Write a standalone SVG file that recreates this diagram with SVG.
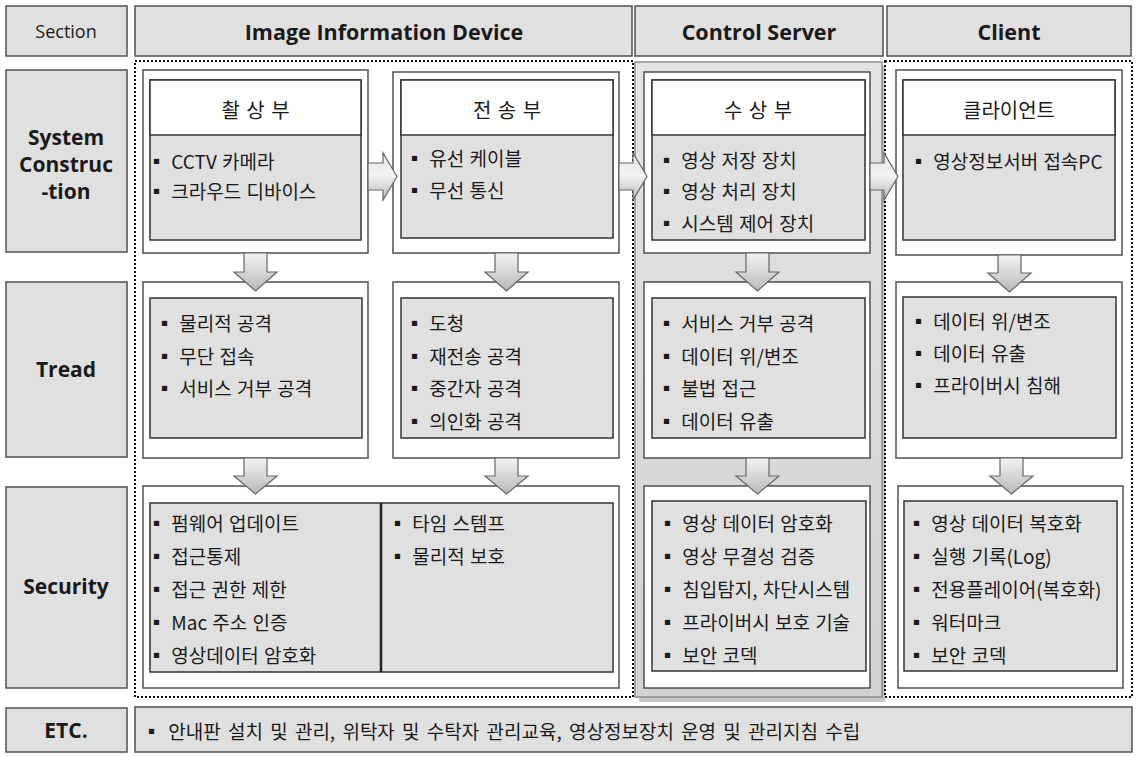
<svg xmlns="http://www.w3.org/2000/svg" width="1138" height="757" viewBox="0 0 1138 757">
<style>
.lbl{fill:#e0e0e0;stroke:#505050;stroke-width:1.5}
.outer{fill:#ffffff;stroke:#505050;stroke-width:1.5}
.inner{fill:#e0e0e0;stroke:#333333;stroke-width:1.5}
.title{fill:#ffffff;stroke:#333333;stroke-width:1.5}
.dot{fill:none;stroke:#111;stroke-width:2;stroke-dasharray:2 2}
.arrow{fill:url(#ag);stroke:#666;stroke-width:1.2}
.harrow{fill:url(#hg);stroke:#666;stroke-width:1.2}
text{font-family:"Open Sans","Noto Sans CJK KR",sans-serif;fill:#1a1a1a;dominant-baseline:central}
.hd{font-size:21.5px;font-weight:bold;text-anchor:middle}
.rl{font-size:21px;font-weight:bold;text-anchor:middle}
.it{font-size:19px;word-spacing:1px;font-family:"Noto Sans CJK KR","Open Sans",sans-serif}
.tt{font-size:20px;word-spacing:2px;text-anchor:middle;font-family:"Noto Sans CJK KR",sans-serif}
</style>
<defs>
<linearGradient id="ag" x1="0" y1="0" x2="0" y2="1"><stop offset="0" stop-color="#f4f4f4"/><stop offset="1" stop-color="#b8b8b8"/></linearGradient>
<linearGradient id="hg" x1="0" y1="0" x2="0" y2="1"><stop offset="0" stop-color="#e8e8e8"/><stop offset="0.5" stop-color="#f2f2f2"/><stop offset="1" stop-color="#b8b8b8"/></linearGradient>
<linearGradient id="pg" x1="0" y1="0" x2="0" y2="1"><stop offset="0" stop-color="#e4e4e4"/><stop offset="1" stop-color="#d2d2d2"/></linearGradient>
</defs>
<rect width="1138" height="757" fill="#ffffff"/>

<!-- headers -->
<g id="h-section"><rect class="lbl" x="6" y="6" width="121" height="50"/><text x="66" y="31" font-size="18" text-anchor="middle" fill="#333">Section</text></g>
<g id="h-device"><rect class="lbl" x="135" y="6" width="497" height="50"/><text class="hd" x="384" y="31">Image Information Device</text></g>
<g id="h-server"><rect class="lbl" x="635" y="6" width="248" height="50"/><text class="hd" x="759" y="31">Control Server</text></g>
<g id="h-client"><rect class="lbl" x="887" y="6" width="244" height="50"/><text class="hd" x="1009" y="31">Client</text></g>

<!-- row labels -->
<g id="r-system"><rect class="lbl" x="6" y="70" width="121" height="182"/><text class="rl" x="66" y="137">System</text><text class="rl" x="66" y="164">Construc</text><text class="rl" x="66" y="191">-tion</text></g>
<g id="r-tread"><rect class="lbl" x="6" y="282" width="121" height="175"/><text class="rl" x="66" y="369">Tread</text></g>
<g id="r-security"><rect class="lbl" x="6" y="487" width="121" height="201"/><text class="rl" x="66" y="586">Security</text></g>
<g id="r-etc"><rect class="lbl" x="6" y="708" width="121" height="44"/><text class="rl" x="66" y="730" font-size="19">ETC.</text></g>

<!-- regions -->
<g id="region-device"><rect class="dot" x="135" y="61" width="498" height="636"/></g>
<g id="region-server"><rect x="639" y="66" width="246" height="636" fill="#c4c4c4"/><rect x="635" y="62" width="247" height="635" fill="url(#pg)" stroke="#8a8a8a" stroke-width="1.5"/></g>
<g id="region-client"><rect class="dot" x="885" y="61" width="247" height="636"/></g>

<!-- row 1 -->
<g id="n-capture"><rect class="outer" x="143" y="70" width="225" height="183"/><rect class="inner" x="150" y="80" width="211" height="160"/><rect class="title" x="150" y="80" width="211" height="55"/><text class="tt" x="255.5" y="109">촬 상 부</text><text class="it" x="147" y="160">▪ CCTV 카메라</text><text class="it" x="147" y="190">▪ 크라우드 디바이스</text></g>
<g id="n-transmit"><rect class="outer" x="393" y="72" width="226" height="181"/><rect class="inner" x="401" y="80" width="212" height="158"/><rect class="title" x="401" y="80" width="212" height="55"/><text class="tt" x="507" y="109">전 송 부</text><text class="it" x="405" y="157">▪ 유선 케이블</text><text class="it" x="405" y="189">▪ 무선 통신</text></g>
<g id="n-receive"><rect class="outer" x="644" y="72" width="226" height="181"/><rect class="inner" x="652" y="80" width="213" height="160"/><rect class="title" x="652" y="80" width="213" height="55"/><text class="tt" x="758" y="109">수 상 부</text><text class="it" x="657" y="159">▪ 영상 저장 장치</text><text class="it" x="657" y="190">▪ 영상 처리 장치</text><text class="it" x="657" y="222">▪ 시스템 제어 장치</text></g>
<g id="n-client"><rect class="outer" x="896" y="70" width="226" height="185"/><rect class="inner" x="903" y="80" width="212" height="160"/><rect class="title" x="903" y="80" width="212" height="55"/><text class="tt" x="1009" y="109">클라이언트</text><text class="it" x="909" y="160">▪ 영상정보서버 접속PC</text></g>

<!-- row 2 -->
<g id="t-capture"><rect class="outer" x="143" y="282" width="225" height="176"/><rect class="inner" x="150" y="298" width="212" height="140"/><text class="it" x="155" y="322">▪ 물리적 공격</text><text class="it" x="155" y="355">▪ 무단 접속</text><text class="it" x="155" y="387">▪ 서비스 거부 공격</text></g>
<g id="t-transmit"><rect class="outer" x="393" y="282" width="226" height="176"/><rect class="inner" x="401" y="298" width="212" height="140"/><text class="it" x="405" y="322">▪ 도청</text><text class="it" x="405" y="355">▪ 재전송 공격</text><text class="it" x="405" y="387">▪ 중간자 공격</text><text class="it" x="405" y="420">▪ 의인화 공격</text></g>
<g id="t-receive"><rect class="outer" x="644" y="282" width="226" height="176"/><rect class="inner" x="652" y="298" width="213" height="140"/><text class="it" x="657" y="322">▪ 서비스 거부 공격</text><text class="it" x="657" y="355">▪ 데이터 위/변조</text><text class="it" x="657" y="387">▪ 불법 접근</text><text class="it" x="657" y="420">▪ 데이터 유출</text></g>
<g id="t-client"><rect class="outer" x="896" y="282" width="226" height="176"/><rect class="inner" x="903" y="297" width="213" height="141"/><text class="it" x="909" y="320">▪ 데이터 위/변조</text><text class="it" x="909" y="352">▪ 데이터 유출</text><text class="it" x="909" y="384">▪ 프라이버시 침해</text></g>

<!-- row 3 -->
<g id="s-device"><rect class="outer" x="143" y="486" width="476" height="202"/><rect class="inner" x="150" y="503" width="463" height="169"/><line x1="381" y1="503" x2="381" y2="672" stroke="#222" stroke-width="2.5"/><text class="it" x="147" y="522">▪ 펌웨어 업데이트</text><text class="it" x="147" y="555">▪ 접근통제</text><text class="it" x="147" y="588">▪ 접근 권한 제한</text><text class="it" x="147" y="621">▪ Mac 주소 인증</text><text class="it" x="147" y="654">▪ 영상데이터 암호화</text><text class="it" x="388" y="522">▪ 타임 스템프</text><text class="it" x="388" y="555">▪ 물리적 보호</text></g>
<g id="s-receive"><rect class="outer" x="644" y="486" width="226" height="202"/><rect class="inner" x="652" y="501" width="214" height="170"/><text class="it" x="658" y="522">▪ 영상 데이터 암호화</text><text class="it" x="658" y="555">▪ 영상 무결성 검증</text><text class="it" x="658" y="588">▪ 침입탐지, 차단시스템</text><text class="it" x="658" y="621">▪ 프라이버시 보호 기술</text><text class="it" x="658" y="654">▪ 보안 코덱</text></g>
<g id="s-client"><rect class="outer" x="898" y="486" width="225" height="202"/><rect class="inner" x="904" y="501" width="213" height="170"/><text class="it" x="907" y="522">▪ 영상 데이터 복호화</text><text class="it" x="907" y="555">▪ 실행 기록(Log)</text><text class="it" x="907" y="588">▪ 전용플레이어(복호화)</text><text class="it" x="907" y="621">▪ 워터마크</text><text class="it" x="907" y="654">▪ 보안 코덱</text></g>

<!-- etc -->
<g id="etc"><rect class="lbl" x="135" y="707" width="997" height="45"/><text class="it" x="142" y="730" style="word-spacing:3px">▪ 안내판 설치 및 관리, 위탁자 및 수탁자 관리교육, 영상정보장치 운영 및 관리지침 수립</text></g>

<!-- connectors -->
<g id="connectors">
<path class="harrow" d="M368,163 H383 V153 L397,176.5 L383,200 V190 H368 Z"/>
<path class="harrow" d="M619,163 H633 V153 L647,176.5 L633,200 V190 H619 Z"/>
<path class="harrow" d="M870,163 H884 V153 L898,176.5 L884,200 V190 H870 Z"/>
<path class="arrow" d="M244,253 H267 V272 H277 L255.5,291 L234,272 H244 Z"/>
<path class="arrow" d="M495,253 H518 V272 H528 L506.5,291 L485,272 H495 Z"/>
<path class="arrow" d="M746,253 H769 V272 H779 L757.5,291 L736,272 H746 Z"/>
<path class="arrow" d="M998,255 H1021 V273 H1031 L1009.5,292 L988,273 H998 Z"/>
<path class="arrow" d="M244,458 H267 V476 H277 L255.5,494 L234,476 H244 Z"/>
<path class="arrow" d="M495,458 H518 V476 H528 L506.5,494 L485,476 H495 Z"/>
<path class="arrow" d="M746,458 H769 V476 H779 L757.5,494 L736,476 H746 Z"/>
<path class="arrow" d="M1000,458 H1023 V476 H1033 L1011.5,494 L990,476 H1000 Z"/>
</g>
</svg>
